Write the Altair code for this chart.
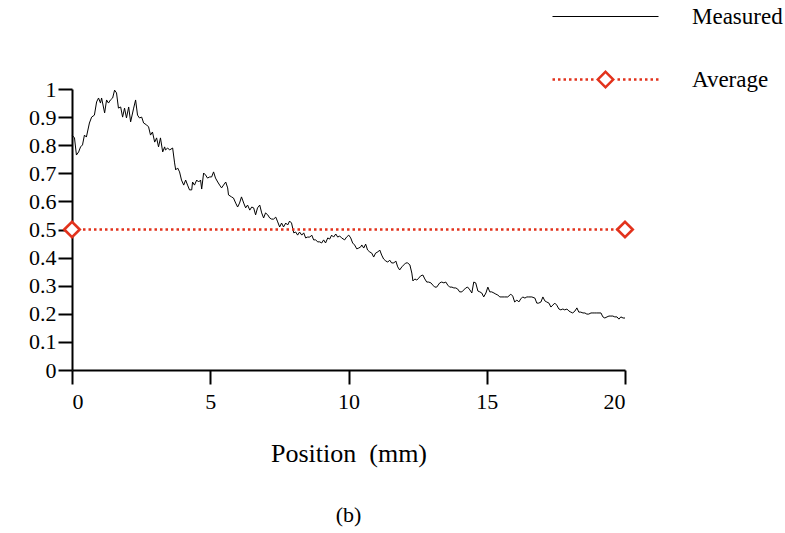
import altair as alt
import pandas as pd

# Measured profile (position in mm, normalised intensity)
position_mm = [
    0.00, 0.09, 0.16, 0.24, 0.31, 0.38, 0.45, 0.52, 0.63, 0.71,
    0.81, 0.89, 0.96, 1.03, 1.07, 1.18, 1.25, 1.32, 1.39, 1.47,
    1.54, 1.61, 1.68, 1.76, 1.83, 1.90, 1.97, 2.05, 2.12, 2.23,
    2.30, 2.37, 2.44, 2.52, 2.59, 2.70, 2.77, 2.84, 2.91, 2.99,
    3.06, 3.13, 3.20, 3.28, 3.35, 3.38, 3.46, 3.53, 3.64, 3.71,
    3.75, 3.82, 3.89, 3.96, 4.04, 4.11, 4.18, 4.25, 4.33, 4.36,
    4.43, 4.51, 4.58, 4.65, 4.69, 4.76, 4.83, 4.90, 4.98, 5.05,
    5.12, 5.19, 5.27, 5.34, 5.41, 5.48, 5.56, 5.63, 5.66, 5.77,
    5.84, 5.92, 5.99, 6.06, 6.13, 6.21, 6.28, 6.35, 6.43, 6.50,
    6.57, 6.64, 6.71, 6.79, 6.86, 6.93, 7.00, 7.08, 7.15, 7.22,
    7.29, 7.37, 7.44, 7.51, 7.58, 7.65, 7.73, 7.80, 7.87, 7.94,
    8.02, 8.09, 8.16, 8.23, 8.31, 8.38, 8.45, 8.52, 8.60, 8.67,
    8.74, 8.81, 8.89, 8.96, 9.03, 9.10, 9.17, 9.25, 9.32, 9.39,
    9.46, 9.54, 9.61, 9.68, 9.75, 9.86, 9.93, 10.01, 10.08, 10.15,
    10.22, 10.30, 10.37, 10.44, 10.48, 10.55, 10.62, 10.69, 10.77, 10.84,
    10.91, 10.98, 11.06, 11.13, 11.20, 11.27, 11.35, 11.42, 11.49, 11.56,
    11.64, 11.71, 11.78, 11.85, 11.93, 12.00, 12.07, 12.14, 12.22, 12.29,
    12.33, 12.40, 12.47, 12.54, 12.61, 12.69, 12.76, 12.83, 12.90, 12.98,
    13.05, 13.12, 13.19, 13.30, 13.37, 13.45, 13.52, 13.59, 13.66, 13.74,
    13.81, 13.88, 13.95, 14.02, 14.10, 14.17, 14.24, 14.31, 14.39, 14.46,
    14.53, 14.60, 14.68, 14.75, 14.82, 14.89, 14.97, 15.04, 15.11, 15.18,
    15.26, 15.33, 15.40, 15.47, 15.55, 15.65, 15.76, 15.87, 15.94, 16.01,
    16.09, 16.16, 16.23, 16.30, 16.38, 16.45, 16.52, 16.63, 16.74, 16.81,
    16.88, 16.96, 17.03, 17.10, 17.17, 17.25, 17.32, 17.39, 17.46, 17.53,
    17.61, 17.68, 17.75, 17.82, 17.90, 17.97, 18.04, 18.11, 18.19, 18.26,
    18.33, 18.40, 18.48, 18.55, 18.62, 18.69, 18.77, 18.84, 18.91, 18.98,
    19.06, 19.13, 19.20, 19.27, 19.35, 19.42, 19.49, 19.56, 19.63, 19.71,
    19.78, 19.85, 19.93, 20.00,
]
measured = [
    0.836, 0.826, 0.765, 0.776, 0.794, 0.801, 0.836, 0.829, 0.879, 0.900,
    0.907, 0.954, 0.968, 0.950, 0.968, 0.915, 0.961, 0.950, 0.961, 0.968,
    0.996, 0.986, 0.932, 0.936, 0.900, 0.932, 0.897, 0.936, 0.883, 0.932,
    0.961, 0.907, 0.897, 0.900, 0.879, 0.872, 0.865, 0.836, 0.847, 0.811,
    0.826, 0.794, 0.826, 0.776, 0.794, 0.783, 0.790, 0.783, 0.790, 0.737,
    0.712, 0.719, 0.705, 0.676, 0.658, 0.676, 0.658, 0.641, 0.641, 0.669,
    0.658, 0.676, 0.669, 0.676, 0.644, 0.701, 0.694, 0.683, 0.687, 0.687,
    0.705, 0.683, 0.669, 0.658, 0.648, 0.658, 0.669, 0.648, 0.623, 0.616,
    0.612, 0.594, 0.580, 0.594, 0.616, 0.594, 0.577, 0.587, 0.569, 0.580,
    0.577, 0.552, 0.577, 0.587, 0.559, 0.541, 0.559, 0.552, 0.541, 0.537,
    0.537, 0.544, 0.527, 0.509, 0.523, 0.509, 0.523, 0.516, 0.530, 0.523,
    0.488, 0.491, 0.480, 0.491, 0.480, 0.488, 0.470, 0.473, 0.473, 0.480,
    0.463, 0.463, 0.456, 0.456, 0.452, 0.463, 0.452, 0.470, 0.466, 0.480,
    0.473, 0.484, 0.473, 0.477, 0.470, 0.463, 0.473, 0.480, 0.470, 0.452,
    0.445, 0.431, 0.434, 0.438, 0.445, 0.434, 0.448, 0.427, 0.420, 0.416,
    0.402, 0.416, 0.420, 0.427, 0.409, 0.395, 0.388, 0.384, 0.391, 0.381,
    0.381, 0.388, 0.367, 0.356, 0.367, 0.374, 0.381, 0.381, 0.374, 0.345,
    0.317, 0.324, 0.320, 0.327, 0.335, 0.338, 0.324, 0.313, 0.313, 0.310,
    0.302, 0.295, 0.295, 0.310, 0.313, 0.310, 0.313, 0.302, 0.295, 0.295,
    0.292, 0.292, 0.288, 0.278, 0.278, 0.285, 0.292, 0.295, 0.285, 0.274,
    0.313, 0.310, 0.281, 0.278, 0.274, 0.260, 0.274, 0.295, 0.278, 0.278,
    0.274, 0.270, 0.267, 0.260, 0.260, 0.260, 0.260, 0.270, 0.263, 0.242,
    0.249, 0.242, 0.253, 0.260, 0.256, 0.260, 0.260, 0.260, 0.256, 0.238,
    0.238, 0.242, 0.260, 0.246, 0.242, 0.238, 0.224, 0.231, 0.238, 0.231,
    0.217, 0.214, 0.217, 0.214, 0.217, 0.210, 0.206, 0.203, 0.210, 0.221,
    0.206, 0.206, 0.203, 0.203, 0.199, 0.199, 0.203, 0.203, 0.203, 0.203,
    0.203, 0.203, 0.189, 0.185, 0.189, 0.192, 0.192, 0.192, 0.189, 0.189,
    0.181, 0.189, 0.185, 0.185,
]

# Average level across the whole range
average_position = [0, 20]
average_value = [0.5, 0.5]

series_names = ["Measured", "Average"]
x_ticks = [0, 5, 10, 15, 20]
y_ticks = [0, 0.1, 0.2, 0.3, 0.4, 0.5, 0.6, 0.7, 0.8, 0.9, 1]

RED = "#e2321c"
SERIF = "Liberation Serif"

df_measured = pd.DataFrame({"position": position_mm, "value": measured, "series": "Measured"})
df_average = pd.DataFrame({"position": average_position, "value": average_value, "series": "Average"})


# Legend glyphs as custom symbol paths (unit = sqrt(symbolSize)/2 px)
def _rect(x0, x1, h):
    return f"M{x0:.3f},{-h:.3f}L{x1:.3f},{-h:.3f}L{x1:.3f},{h:.3f}L{x0:.3f},{h:.3f}Z"


measured_glyph = _rect(-5.3, 5.3, 0.06)
dots = []
start = -5.3
while start + 0.25 <= -1.15:
    dots.append(_rect(start, start + 0.25, 0.125))
    dots.append(_rect(-start - 0.25, -start, 0.125))
    start += 0.55
ring = (
    "M0,-0.95L0.95,0L0,0.95L-0.95,0Z"
    "M0,-0.6L-0.6,0L0,0.6L0.6,0Z"
)
average_glyph = "".join(dots) + ring

x_enc = alt.X(
    "position:Q",
    scale=alt.Scale(domain=[0, 20], nice=False),
    axis=alt.Axis(values=x_ticks, format="d", title="Position\u00a0 (mm)",
                  labelPadding=7, titlePadding=28),
)
y_enc = alt.Y(
    "value:Q",
    scale=alt.Scale(domain=[0, 1], nice=False),
    axis=alt.Axis(values=y_ticks, format="~g", title=None, labelPadding=2),
)

measured_line = alt.Chart(df_measured).mark_line(color="black", strokeWidth=1).encode(x=x_enc, y=y_enc)

average_line = alt.Chart(df_average).mark_line(
    color=RED, strokeWidth=2.5, strokeDash=[2.5, 3]
).encode(x=x_enc, y=y_enc)

average_points = alt.Chart(df_average).mark_point(
    shape="diamond", size=240, filled=False, fill="white", stroke=RED,
    strokeWidth=2.6, opacity=1,
).encode(x=x_enc, y=y_enc)

leg = alt.Legend(
    title=None, orient="none", legendX=522, legendY=-84, direction="vertical",
    labelFont=SERIF, labelFontSize=23, labelColor="black", symbolSize=400,
    labelOffset=75, rowPadding=39, symbolStrokeWidth=0, labelLimit=0, padding=0,
)

legend_layer = alt.Chart(df_average).transform_filter("false").mark_point(
    filled=True, opacity=1, strokeWidth=0
).encode(
    x=x_enc,
    y=y_enc,
    color=alt.Color("series:N", scale=alt.Scale(domain=series_names, range=["black", RED]), legend=leg),
    shape=alt.Shape("series:N", scale=alt.Scale(domain=series_names, range=[measured_glyph, average_glyph]), legend=leg),
)

chart = alt.layer(measured_line, average_line, average_points, legend_layer).properties(
    width=553,
    height=281,
    autosize="none",
    padding={"left": 72, "top": 89, "right": 160, "bottom": 163},
    title=alt.TitleParams("(b)", orient="bottom", font=SERIF, fontSize=22,
                          fontWeight="normal", color="black", offset=39),
).configure_view(stroke=None).configure_axis(
    grid=False,
    domainColor="black",
    domainWidth=2,
    tickColor="black",
    tickWidth=2,
    tickSize=14,
    labelFont=SERIF,
    labelFontSize=22,
    labelColor="black",
    titleFont=SERIF,
    titleFontSize=26,
    titleFontWeight="normal",
    titleColor="black",
)

chart.save("out.html", embed_options={"renderer": "svg", "actions": False})
